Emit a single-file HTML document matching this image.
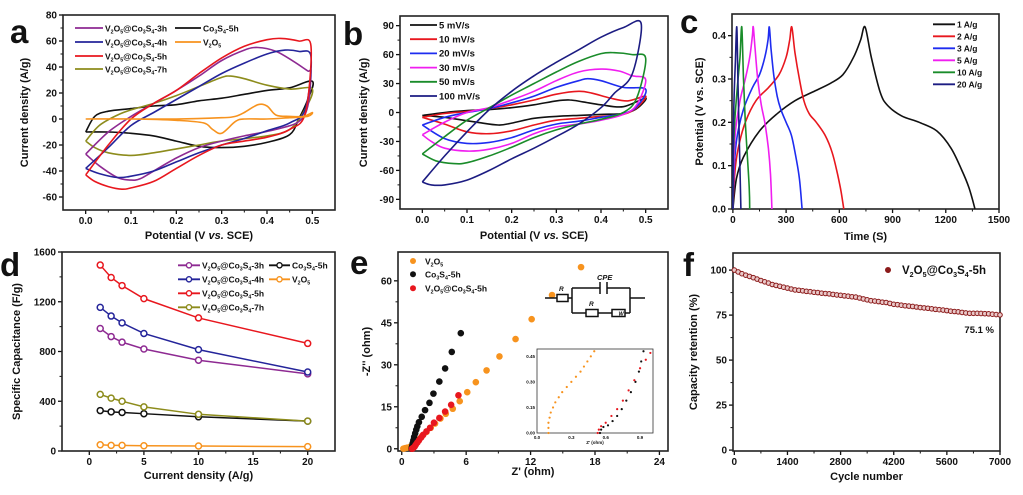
<!DOCTYPE html>
<html><head><meta charset="utf-8"><style>
html,body{margin:0;padding:0;background:#fff;}
svg{display:block;font-family:"Liberation Sans",Arial,sans-serif;}
text{font-weight:bold;fill:#111;}
</style></head><body>
<svg id="fig" width="1023" height="495" viewBox="0 0 1023 495" xmlns="http://www.w3.org/2000/svg"></svg>
<script>
// ---------- DATA ----------
const cvA_3h=[[0,-27],[0.05,-10],[0.1,2],[0.15,12],[0.2,22],[0.25,33],[0.3,45],[0.35,53],[0.38,55],[0.42,52],[0.46,44],[0.49,37],[0.497,36],[0.49,10],[0.47,-2],[0.42,-8],[0.35,-13],[0.3,-17],[0.25,-22],[0.2,-30],[0.15,-40],[0.12,-46],[0.1,-47],[0.07,-45],[0.03,-36],[0,-27]];
const cvA_4h=[[0,-38],[0.05,-22],[0.1,-5],[0.15,5],[0.2,15],[0.25,25],[0.3,35],[0.35,43],[0.4,50],[0.44,53],[0.47,52],[0.497,48],[0.485,8],[0.45,-3],[0.4,-9],[0.35,-15],[0.3,-20],[0.25,-26],[0.2,-33],[0.15,-40],[0.1,-44],[0.07,-45],[0.03,-42],[0,-38]];
const cvA_5h=[[0,-43],[0.05,-20],[0.1,0],[0.15,12],[0.2,22],[0.25,35],[0.3,47],[0.35,56],[0.4,61],[0.43,62],[0.47,60],[0.497,56],[0.485,5],[0.45,-8],[0.4,-14],[0.35,-17],[0.3,-20],[0.25,-28],[0.2,-38],[0.15,-48],[0.1,-53],[0.08,-54],[0.05,-52],[0.02,-48],[0,-43]];
const cvA_7h=[[0,-17],[0.03,-5],[0.07,3],[0.1,7],[0.15,12],[0.2,18],[0.25,25],[0.3,32],[0.32,33],[0.35,31],[0.4,26],[0.45,23],[0.5,23],[0.48,5],[0.45,-8],[0.4,-13],[0.3,-17],[0.25,-20],[0.2,-23],[0.15,-26],[0.1,-28],[0.05,-26],[0.02,-22],[0,-17]];
const cvA_co=[[0,-10],[0.02,2],[0.05,6],[0.1,8],[0.15,10],[0.2,11],[0.25,14],[0.3,16],[0.35,19],[0.4,22],[0.45,24],[0.5,29],[0.49,15],[0.47,0],[0.45,-12],[0.4,-18],[0.35,-21],[0.3,-22],[0.25,-21],[0.2,-17],[0.15,-13],[0.1,-11],[0.05,-10],[0,-10]];
const cvA_v=[[0,0],[0.1,0],[0.2,0],[0.3,1],[0.33,2],[0.35,5],[0.38,11],[0.4,10],[0.42,3],[0.45,2],[0.48,2],[0.5,5],[0.49,2],[0.45,1],[0.4,0],[0.35,0],[0.33,-2],[0.3,-11],[0.28,-8],[0.26,-3],[0.2,-1],[0.1,0],[0,0]];
const cvB_5=[[0,-3],[0.05,0],[0.1,2],[0.15,3],[0.2,5],[0.25,8],[0.3,12],[0.33,13],[0.36,11],[0.4,8],[0.45,6],[0.5,15],[0.48,4],[0.45,-1],[0.4,-2],[0.35,-3],[0.3,-4],[0.25,-6],[0.2,-11],[0.17,-13],[0.12,-10],[0.05,-5],[0,-3]];
const cvB_10=[[0,-5],[0.05,-1],[0.1,1],[0.15,4],[0.2,8],[0.25,13],[0.3,19],[0.35,22],[0.38,20],[0.42,15],[0.46,12],[0.5,17],[0.48,5],[0.45,-2],[0.4,-4],[0.35,-6],[0.3,-8],[0.25,-13],[0.2,-19],[0.15,-22],[0.1,-20],[0.05,-12],[0,-5]];
const cvB_20=[[0,-13],[0.05,-5],[0.1,0],[0.15,4],[0.2,10],[0.25,17],[0.3,26],[0.35,33],[0.37,35],[0.4,33],[0.45,26],[0.5,24],[0.48,6],[0.45,-1],[0.4,-5],[0.35,-9],[0.3,-12],[0.25,-18],[0.2,-26],[0.15,-31],[0.1,-32],[0.05,-27],[0,-13]];
const cvB_30=[[0,-23],[0.05,-10],[0.1,0],[0.15,5],[0.2,13],[0.25,22],[0.3,33],[0.35,42],[0.4,45],[0.44,43],[0.47,38],[0.5,34],[0.48,8],[0.45,-2],[0.4,-8],[0.35,-12],[0.3,-15],[0.25,-22],[0.2,-32],[0.15,-38],[0.1,-40],[0.05,-37],[0.02,-30],[0,-23]];
const cvB_50=[[0,-43],[0.05,-25],[0.1,-8],[0.15,5],[0.2,18],[0.25,30],[0.3,42],[0.35,53],[0.4,61],[0.43,62],[0.47,60],[0.5,56],[0.48,15],[0.45,0],[0.4,-7],[0.35,-12],[0.3,-18],[0.25,-26],[0.2,-36],[0.15,-45],[0.1,-52],[0.07,-53],[0.03,-50],[0,-43]];
const cvB_100=[[0,-72],[0.05,-45],[0.1,-20],[0.15,3],[0.2,22],[0.25,38],[0.3,52],[0.35,65],[0.4,78],[0.45,88],[0.49,92],[0.47,40],[0.43,20],[0.4,5],[0.35,-12],[0.3,-25],[0.25,-37],[0.2,-48],[0.15,-60],[0.1,-70],[0.05,-75],[0.02,-75],[0,-72]];
const gcd1=[[0,0],[20,0.07],[60,0.12],[150,0.18],[250,0.22],[350,0.25],[450,0.27],[550,0.29],[620,0.31],[680,0.35],[720,0.39],[745,0.42],[780,0.35],[830,0.27],[870,0.24],[950,0.215],[1050,0.2],[1150,0.18],[1230,0.14],[1290,0.09],[1330,0.05],[1365,0]];
const gcd2=[[0,0],[10,0.08],[30,0.14],[70,0.2],[130,0.25],[200,0.28],[260,0.31],[300,0.35],[320,0.39],[332,0.42],[350,0.36],[375,0.3],[400,0.25],[430,0.22],[470,0.2],[520,0.17],[560,0.13],[590,0.08],[610,0.04],[625,0]];
const gcd3=[[0,0],[8,0.1],[25,0.17],[60,0.23],[110,0.28],[150,0.31],[180,0.35],[198,0.39],[205,0.42],[215,0.37],[230,0.31],[250,0.26],[270,0.23],[300,0.2],[330,0.17],[355,0.12],[375,0.07],[390,0]];
const gcd5=[[0,0],[5,0.1],[15,0.18],[40,0.25],[70,0.3],[95,0.35],[110,0.4],[115,0.42],[125,0.37],[140,0.3],[160,0.24],[180,0.2],[200,0.14],[212,0.08],[220,0]];
const gcd10=[[0,0],[3,0.12],[10,0.2],[25,0.28],[40,0.35],[50,0.42],[60,0.3],[70,0.2],[82,0.12],[92,0.05],[95,0]];
const gcd20=[[0,0],[2,0.15],[6,0.25],[14,0.34],[22,0.42],[28,0.3],[35,0.18],[42,0.06],[45,0]];
const currDens=[1,2,3,5,10,20];
const capA3h=[985,920,875,820,730,620];
const capA4h=[1155,1085,1030,945,815,635];
const capA5h=[1495,1395,1330,1225,1070,865];
const capA7h=[455,425,400,355,295,240];
const capCo=[325,315,310,300,275,240];
const capV=[50,45,45,42,40,35];
const nyqV=[[16.7,64.9],[14.0,54.9],[12.1,46.3],[10.6,39.2],[9.1,33],[7.9,28],[6.9,23.8],[6.1,20.2],[5.4,17],[4.75,14.3],[4.1,12.5],[3.6,10.8],[3.1,9],[2.7,7.5],[2.3,6],[1.9,4.6],[1.6,3.4],[1.3,2.3],[1.0,1.4],[0.8,0.8],[0.5,0.4],[0.3,0.2],[0.15,0.05]];
const nyqCo=[[5.5,41.3],[4.66,34.6],[4.04,28.7],[3.5,24],[2.95,19.7],[2.58,16.4],[2.17,13.8],[1.86,11.4],[1.6,9.5],[1.45,8],[1.35,6.8],[1.25,5.5],[1.15,4.2],[1.08,3],[1.02,2],[0.98,1.2],[0.95,0.6],[0.93,0.2],[0.92,0]];
const nyqVC=[[5.28,19.1],[4.6,15.7],[4.04,13.3],[3.5,11],[3.0,9.3],[2.64,7.5],[2.3,6.2],[2.0,5],[1.8,4],[1.6,3],[1.45,2.2],[1.3,1.4],[1.2,0.8],[1.1,0.4],[1.0,0.1],[0.95,0]];
const insV=[[0.1,0],[0.1,0.03],[0.1,0.06],[0.11,0.09],[0.12,0.12],[0.14,0.15],[0.16,0.18],[0.19,0.21],[0.22,0.24],[0.26,0.27],[0.3,0.3],[0.34,0.33],[0.38,0.36],[0.41,0.39],[0.44,0.42],[0.47,0.45],[0.5,0.48]];
const insCo=[[0.55,0],[0.56,0.02],[0.58,0.035],[0.62,0.045],[0.66,0.07],[0.7,0.1],[0.74,0.14],[0.78,0.19],[0.82,0.24],[0.86,0.3],[0.89,0.36],[0.91,0.42],[0.93,0.48]];
const insVC=[[0.53,0],[0.54,0.02],[0.56,0.04],[0.6,0.06],[0.65,0.1],[0.7,0.14],[0.75,0.19],[0.8,0.25],[0.85,0.31],[0.9,0.38],[0.95,0.43],[0.99,0.47]];
const cycleStep=100;
const retention=[100,99,98,97.2,96.5,95.8,95,94.2,93.5,92.8,92,91.5,91,90.5,90,89.5,89,88.8,88.5,88.2,88,87.7,87.5,87.2,87,86.8,86.5,86.2,86,85.7,85.5,85.2,85,84.5,84,83.5,83,82.8,82.5,82.2,82,81.5,81,80.8,80.5,80.2,80,79.8,79.5,79.2,79,78.8,78.5,78.2,78,77.8,77.5,77.2,77,76.8,76.5,76.2,76,76,76,75.9,75.8,75.7,75.5,75.3,75.1];

// ---------- HELPERS ----------
const NS='http://www.w3.org/2000/svg';
const svg=document.getElementById('fig');
function mk(tag,attrs,parent){const e=document.createElementNS(NS,tag);for(const k in attrs)e.setAttribute(k,attrs[k]);(parent||svg).appendChild(e);return e;}
function rich(parent,x,y,str,size,anchor,fill){
  const t=mk('text',{x:x,y:y,'font-size':size,'text-anchor':anchor||'start',fill:fill||'#111'},parent);
  let i=0,pend=0;
  while(i<str.length){
    if(str[i]==='_'){const ts=mk('tspan',{'font-size':size*0.62,dy:size*0.25},t);ts.textContent=str[i+1];pend=-size*0.25;i+=2;continue;}
    let j=i;while(j<str.length&&str[j]!=='_')j++;
    const at={};if(pend)at.dy=pend;pend=0;
    const ts=mk('tspan',at,t);ts.textContent=str.slice(i,j);i=j;
  }
  return t;
}
function smooth(pts){
  let d='M'+pts[0][0].toFixed(1)+','+pts[0][1].toFixed(1);
  for(let i=0;i<pts.length-1;i++){
    const p0=pts[Math.max(i-1,0)],p1=pts[i],p2=pts[i+1],p3=pts[Math.min(i+2,pts.length-1)];
    const c1x=p1[0]+(p2[0]-p0[0])/6,c1y=p1[1]+(p2[1]-p0[1])/6,c2x=p2[0]-(p3[0]-p1[0])/6,c2y=p2[1]-(p3[1]-p1[1])/6;
    d+='C'+c1x.toFixed(1)+','+c1y.toFixed(1)+' '+c2x.toFixed(1)+','+c2y.toFixed(1)+' '+p2[0].toFixed(1)+','+p2[1].toFixed(1);
  }
  return d;
}
function axes(P){
  const g=mk('g',{});
  
  
  const sx=v=>P.L+(v-P.xmin)/(P.xmax-P.xmin)*(P.R-P.L);
  const sy=v=>P.B-(v-P.ymin)/(P.ymax-P.ymin)*(P.B-P.T);
  const fs=P.fs||10;
  P.xticks.forEach((v,i)=>{
    const x=sx(v);
    const tk=mk('line',{x1:x,x2:x,y1:P.B,y2:P.B+4,stroke:'#111','stroke-width':1.3},g);
    
    
    const lb=mk('text',{x:x,y:P.B+14,'font-size':fs,'text-anchor':'middle'},g);
    lb.textContent=P.xlabels[i];
    
    
    if(i<P.xticks.length-1){const mx=sx((v+P.xticks[i+1])/2);mk('line',{x1:mx,x2:mx,y1:P.B,y2:P.B+2.5,stroke:'#111','stroke-width':1},g);}
  });
  P.yticks.forEach((v,i)=>{
    const y=sy(v);
    const tk=mk('line',{x1:P.L,x2:P.L-4,y1:y,y2:y,stroke:'#111','stroke-width':1.3},g);
    
    
    const lb=mk('text',{x:P.L-6,y:y+3.5,'font-size':fs,'text-anchor':'end'},g);
    lb.textContent=P.ylabels[i];
    
    
    if(i<P.yticks.length-1){const my=sy((v+P.yticks[i+1])/2);mk('line',{x1:P.L,x2:P.L-2.5,y1:my,y2:my,stroke:'#111','stroke-width':1},g);}
  });
  const fr=mk('rect',{x:P.L,y:P.T,width:P.R-P.L,height:P.B-P.T,fill:'none',stroke:'#222','stroke-width':1.6},g);
  
  
  const xt=mk('text',{x:(P.L+P.R)/2,y:P.xty,'font-size':P.tfs||11,'text-anchor':'middle'},g);
  xt.innerHTML=P.xtitle;
  
  
  const yt=mk('text',{x:0,y:0,'font-size':P.tfs||11,'text-anchor':'middle',transform:'translate('+P.ytx+','+((P.T+P.B)/2)+') rotate(-90)'},g);
  yt.innerHTML=P.ytitle;
  
  
  const lt=mk('text',{x:P.letter[1],y:P.letter[2],'font-size':33},g);
  lt.textContent=P.letter[0];
  
  
  return {sx,sy,g};
}
function curve(ax,pts,color,name,w){
  const p=mk('path',{d:smooth(pts.map(q=>[ax.sx(q[0]),ax.sy(q[1])])),fill:'none',stroke:color,'stroke-width':w||1.6,'stroke-linejoin':'round'},ax.g);
  
  
  return p;
}
function legLine(g,x1,x2,y,color,label,fs,name){
  const l=mk('line',{x1:x1,x2:x2,y1:y,y2:y,stroke:color,'stroke-width':1.8},g);
  
  
  const t=rich(g,x2+2,y+3.3,label,fs);
  
  
}
const r2=[0,0.1,0.2,0.3,0.4,0.5];
const r2l=['0.0','0.1','0.2','0.3','0.4','0.5'];
const pot='Potential (V <tspan font-style="italic">vs.</tspan> SCE)';

// ---------- PANEL A ----------
const A=axes({name:'panel-a',L:63,R:335,T:15,B:210,xmin:-0.05,xmax:0.55,ymin:-70,ymax:80,xticks:r2,xlabels:r2l,
  yticks:[-60,-40,-20,0,20,40,60,80],ylabels:['-60','-40','-20','0','20','40','60','80'],xtitle:pot,ytitle:'Current density (A/g)',xty:239,ytx:28,letter:['a',10,43]});
const colA={h3:'#8e2a92',h4:'#24249a',h5:'#e8171e',h7:'#8d8c1c',co:'#111',v:'#f7931e'};
curve(A,cvA_co,colA.co,'cv-co3s4-5h');
curve(A,cvA_7h,colA.h7,'cv-7h');
curve(A,cvA_3h,colA.h3,'cv-3h');
curve(A,cvA_4h,colA.h4,'cv-4h');
curve(A,cvA_5h,colA.h5,'cv-5h');
curve(A,cvA_v,colA.v,'cv-v2o5');
const lgA=mk('g',{});
legLine(lgA,75,103,28,colA.h3,'V_2O_5@Co_3S_4-3h',8.5,'legend-3h');
legLine(lgA,75,103,42,colA.h4,'V_2O_5@Co_3S_4-4h',8.5,'legend-4h');
legLine(lgA,75,103,56,colA.h5,'V_2O_5@Co_3S_4-5h',8.5,'legend-5h');
legLine(lgA,75,103,69,colA.h7,'V_2O_5@Co_3S_4-7h',8.5,'legend-7h');
legLine(lgA,175,201,28,colA.co,' Co_3S_4-5h',8.5,'legend-co3s4');
legLine(lgA,175,201,42,colA.v,' V_2O_5',8.5,'legend-v2o5');

// ---------- PANEL B ----------
const B=axes({name:'panel-b',L:400,R:668,T:16,B:209,xmin:-0.05,xmax:0.55,ymin:-100,ymax:100,xticks:r2,xlabels:r2l,
  yticks:[-90,-60,-30,0,30,60,90],ylabels:['-90','-60','-30','0','30','60','90'],xtitle:pot,ytitle:'Current density (A/g)',xty:239,ytx:367,letter:['b',343,45]});
const colB=['#111','#e8171e','#1e2cf0','#f01ef0','#1a8c2a','#1c1c82'];
const dataB=[cvB_5,cvB_10,cvB_20,cvB_30,cvB_50,cvB_100];
const labB=['5 mV/s','10 mV/s','20 mV/s','30 mV/s','50 mV/s','100 mV/s'];
dataB.forEach((d,i)=>curve(B,d,colB[i],'cv-'+labB[i].replace(/[ \/]/g,'-')));
const lgB=mk('g',{});
labB.forEach((l,i)=>legLine(lgB,410,437,25+i*14.2,colB[i],l,9.5,'legend-'+l.replace(/[ \/]/g,'-')));

// ---------- PANEL C ----------
const C=axes({name:'panel-c',L:732,R:999,T:14,B:209,xmin:-5,xmax:1500,ymin:0,ymax:0.45,xticks:[0,300,600,900,1200,1500],xlabels:['0','300','600','900','1200','1500'],
  yticks:[0,0.1,0.2,0.3,0.4],ylabels:['0.0','0.1','0.2','0.3','0.4'],xtitle:'Time (S)',ytitle:'Potential (V vs. SCE)',xty:240,ytx:703,letter:['c',680,33]});
const dataC=[gcd1,gcd2,gcd3,gcd5,gcd10,gcd20];
const labC=['1 A/g','2 A/g','3 A/g','5 A/g','10 A/g','20 A/g'];
dataC.forEach((d,i)=>curve(C,d,colB[i],'gcd-'+labC[i].replace(/[ \/]/g,'-')));
const lgC=mk('g',{});
labC.forEach((l,i)=>legLine(lgC,933,955,24.3+i*12,colB[i],l,8.5,'legend-'+l.replace(/[ \/]/g,'-')));

// ---------- PANEL D ----------
const D=axes({name:'panel-d',L:62,R:335,T:252,B:451,xmin:-2.5,xmax:22.5,ymin:0,ymax:1600,xticks:[0,5,10,15,20],xlabels:['0','5','10','15','20'],
  yticks:[0,400,800,1200,1600],ylabels:['0','400','800','1200','1600'],xtitle:'Current density (A/g)',ytitle:'Specific Capacitance (F/g)',xty:479,ytx:20,letter:['d',0,276]});
const seriesD=[[capCo,colA.co,'co3s4'],[capV,colA.v,'v2o5'],[capA7h,colA.h7,'7h'],[capA3h,colA.h3,'3h'],[capA4h,colA.h4,'4h'],[capA5h,colA.h5,'5h']];
seriesD.forEach(s=>{
  const pl=mk('polyline',{points:currDens.map((x,i)=>D.sx(x)+','+D.sy(s[0][i])).join(' '),fill:'none',stroke:s[1],'stroke-width':1.5},D.g);
  
  
  currDens.forEach((x,i)=>{
    const c=mk('circle',{cx:D.sx(x),cy:D.sy(s[0][i]),r:3,fill:'#fff',stroke:s[1],'stroke-width':1.5},D.g);
    
    
  });
});
const lgD=mk('g',{});
[[178,200,265.3,colA.h3,'V_2O_5@Co_3S_4-3h'],[178,200,279.3,colA.h4,'V_2O_5@Co_3S_4-4h'],[178,200,293.3,colA.h5,'V_2O_5@Co_3S_4-5h'],[178,200,307.3,colA.h7,'V_2O_5@Co_3S_4-7h'],[269,290,265.3,colA.co,'Co_3S_4-5h'],[269,290,279.3,colA.v,'V_2O_5']].forEach(e=>{
  legLine(lgD,e[0],e[1],e[2],e[3],e[4],8.5,'legend-d-entry');
  const c=mk('circle',{cx:(e[0]+e[1])/2,cy:e[2],r:2.6,fill:'#fff',stroke:e[3],'stroke-width':1.4},lgD);
  
  
});

// ---------- PANEL E ----------
const E=axes({name:'panel-e',L:398,R:668,T:252,B:451,xmin:-0.35,xmax:24.8,ymin:-0.8,ymax:70.3,xticks:[0,6,12,18,24],xlabels:['0','6','12','18','24'],
  yticks:[0,15,30,45,60],ylabels:['0','15','30','45','60'],xtitle:"Z' (ohm)",ytitle:"-Z'' (ohm)",xty:475,ytx:370,letter:['e',350,274]});
const seriesE=[[nyqV,'#f7931e','v2o5'],[nyqCo,'#111','co3s4'],[nyqVC,'#e8171e','composite']];
seriesE.forEach(s=>s[0].forEach(p=>{
  const c=mk('circle',{cx:E.sx(p[0]),cy:E.sy(p[1]),r:3.3,fill:s[1]},E.g);
  
  
}));
const lgE=mk('g',{});
[[261,'#f7931e','V_2O_5'],[274.3,'#111','Co_3S_4-5h'],[288.3,'#e8171e','V_2O_5@Co_3S_4-5h']].forEach(e=>{
  const c=mk('circle',{cx:413,cy:e[0],r:3,fill:e[1]},lgE);
  
  
  const t=rich(lgE,425,e[0]+3.3,e[2],8.5);
  
  
});
const ck=mk('g',{stroke:'#111','stroke-width':1.5,fill:'none'});
mk('path',{d:'M545,298H557M568,298H572M572,288V313M572,288H600M607,288H630M572,313H586M598,313H612M625,313H630M630,288V313M630,298H645M600,282V294M607,282V294'},ck);
mk('rect',{x:557,y:294.5,width:11,height:7,fill:'#fff'},ck);
mk('rect',{x:586,y:309.5,width:12,height:7,fill:'#fff'},ck);
mk('rect',{x:612,y:309.5,width:13,height:7,fill:'#fff'},ck);
[['CPE',597,280,7.5],['R',559,291,6.5],['R',589,306,6.5],['W',618.5,315.5,5.5]].forEach(t=>{
  const tt=mk('text',{x:t[1],y:t[2],'font-size':t[3],'font-style':'italic',stroke:'none',fill:'#111'},ck);
  tt.textContent=t[0];
  
  
});
const I=(function(){
  const P={L:537,R:653,T:349,B:433,xmin:0,xmax:1.013,ymin:0,ymax:0.493};
  const g=mk('g',{});
  const sx=v=>P.L+(v-P.xmin)/(P.xmax-P.xmin)*(P.R-P.L), sy=v=>P.B-(v-P.ymin)/(P.ymax-P.ymin)*(P.B-P.T);
  mk('rect',{x:P.L,y:P.T,width:P.R-P.L,height:P.B-P.T,fill:'#fff',stroke:'#333','stroke-width':0.8},g);
  [0,0.3,0.6,0.9].forEach(v=>{const t=mk('text',{x:sx(v),y:P.B+6,'font-size':4.5,'text-anchor':'middle','font-weight':'normal'},g);t.textContent=v.toFixed(1);});
  [0,0.15,0.3,0.45].forEach(v=>{const t=mk('text',{x:P.L-2,y:sy(v)+1.5,'font-size':4.5,'text-anchor':'end','font-weight':'normal'},g);t.textContent=v.toFixed(2);});
  const xt=mk('text',{x:(P.L+P.R)/2,y:P.B+11,'font-size':4.5,'text-anchor':'middle','font-weight':'normal'},g);xt.textContent="Z' (ohm)";
  return {sx,sy,g};
})();
[[insV,'#f7931e'],[insCo,'#111'],[insVC,'#e8171e']].forEach(s=>s[0].forEach(p=>{
  const c=mk('circle',{cx:I.sx(p[0]),cy:I.sy(p[1]),r:1.1,fill:s[1]},I.g);
  
  
}));

// ---------- PANEL F ----------
const F=axes({name:'panel-f',L:733,R:1000,T:253,B:451,xmin:-35,xmax:7000,ymin:-0.5,ymax:109.5,xticks:[0,1400,2800,4200,5600,7000],xlabels:['0','1400','2800','4200','5600','7000'],
  yticks:[0,25,50,75,100],ylabels:['0','25','50','75','100'],xtitle:'Cycle number',ytitle:'Capacity retention (%)',xty:480,ytx:697,letter:['f',683,276]});
retention.forEach((v,i)=>{
  const c=mk('circle',{cx:F.sx(i*cycleStep),cy:F.sy(v),r:2.3,fill:'#e9c9c9',stroke:'#8b1a1a','stroke-width':1},F.g);
  
  
});
const lf=mk('circle',{cx:888,cy:270,r:3,fill:'#8b1a1a'},F.g);


const lft=rich(F.g,902,274,'V_2O_5@Co_3S_4-5h',11.5);


const ann=mk('text',{x:994,y:333,'font-size':9.5,'text-anchor':'end',fill:'#8b1a1a'},F.g);
ann.textContent='75.1 %';


</script>
</body></html>
